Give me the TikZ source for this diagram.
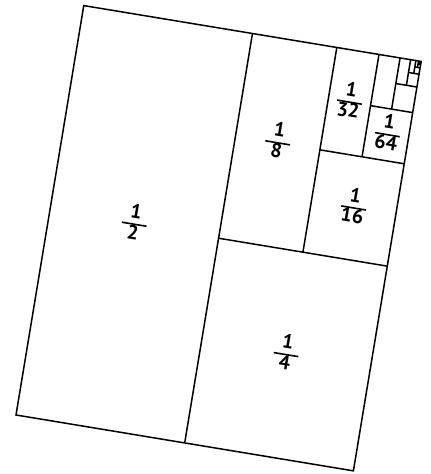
\documentclass[tikz,border=0pt]{standalone}
\usepackage{fontspec}
\usepackage{array}
\usepackage{tikz}
\setmainfont{PT Sans}
\newcommand\partfrac[2]{{\setlength\arrayrulewidth{1.6pt}\renewcommand\arraystretch{0.8}%
\begin{tabular}{@{}>{\centering\arraybackslash}p{25pt}@{}}#1\\\hline#2\end{tabular}}}
\tikzset{
  sheet/.style={line width=1.5pt,line join=miter},
  partlabel/.style={inner sep=0pt,font=\fontsize{20}{22}\selectfont\bfseries,transform shape}
}
\begin{document}
\begin{tikzpicture}[x=1pt,y=1pt]
\path[use as bounding box] (0,0) rectangle (431,474);
\begin{scope}[shift={(16,59)},rotate=-9.4]
\def\W{342}
\def\H{415}
% outer sheet
\draw[sheet] (0,0) rectangle (\W,\H);
% halving cuts, vertical then horizontal
\foreach \k in {1,...,9}{
  \pgfmathsetmacro\f{1-2^(-\k)}
  \pgfmathsetmacro\g{1-2^(-(\k-1))}
  \draw[sheet] (\f*\W,\g*\H) -- (\f*\W,\H);
  \draw[sheet] (\f*\W,\f*\H) -- (\W,\f*\H);
}
\node[partlabel] (half) at (0.25*\W,0.5*\H) {\partfrac{1}{2}};
\node[partlabel] (quarter) at (0.75*\W,0.25*\H) {\partfrac{1}{4}};
\node[partlabel] (eighth) at (0.625*\W,0.75*\H) {\partfrac{1}{8}};
\node[partlabel] (sixteenth) at (0.875*\W,0.625*\H) {\partfrac{1}{16}};
\node[partlabel] (thirtysecond) at (0.8125*\W,0.875*\H) {\partfrac{1}{32}};
\node[partlabel] (sixtyfourth) at (0.9375*\W,0.8125*\H) {\partfrac{1}{64}};
\end{scope}
\end{tikzpicture}
\end{document}
